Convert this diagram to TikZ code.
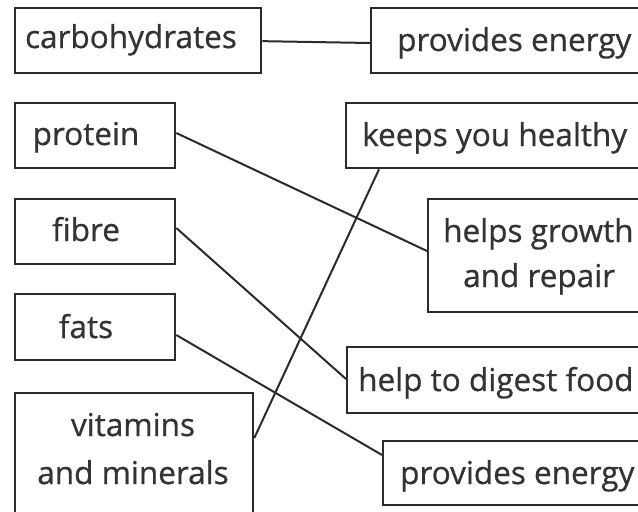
\documentclass[tikz,border=0pt]{standalone}
\usepackage{fontspec}
\setmainfont{Open Sans}
\newfontfamily\boxfont[FakeBold=0.7]{Open Sans}
\definecolor{ink}{HTML}{2B2B2B}
\definecolor{txt}{HTML}{333333}
\begin{document}
\begin{tikzpicture}[x=1pt,y=-1pt,
  box/.style={draw=ink,line width=2.3pt,rectangle,anchor=north west,inner sep=0pt},
  lbl/.style={text=txt,anchor=base,inner sep=0pt,font=\boxfont\fontsize{31.5}{38}\selectfont},
  lbll/.style={lbl,anchor=base west},
  link/.style={draw=ink,line width=2pt}]
\useasboundingbox (0,0) rectangle (638,512);
\clip (0,0) rectangle (638,512);
% left boxes
\node[box,minimum width=246pt,minimum height=65pt] (carb) at (14,7) {};
\node[box,minimum width=160pt,minimum height=65pt] (prot) at (14,102) {};
\node[box,minimum width=160pt,minimum height=65pt] (fib) at (14,198) {};
\node[box,minimum width=160pt,minimum height=66pt] (fat) at (14,293) {};
\node[box,minimum width=238pt,minimum height=140pt] (vit) at (14,392) {};
% right boxes
\node[box,minimum width=300pt,minimum height=65pt] (pea) at (370,7) {};
\node[box,minimum width=320pt,minimum height=65pt] (keep) at (345,102) {};
\node[box,minimum width=240pt,minimum height=113pt] (grow) at (427,198) {};
\node[box,minimum width=320pt,minimum height=66pt] (dig) at (346,346) {};
\node[box,minimum width=300pt,minimum height=64pt] (peb) at (382,440) {};
% texts
\node[lbl] (carbT) at (131,48) {carbohydrates};
\node[lbl] (protT) at (86,145) {protein};
\node[lbl] (fibT) at (86,241) {fibre};
\node[lbl] (fatT) at (86,338) {fats};
\node[lbl] (vitT1) at (133,436) {vitamins};
\node[lbl] (vitT2) at (133,484) {and minerals};
\node[lbll] (peaT) at (397,51) {provides energy};
\node[lbll] (keepT) at (362,146) {keeps you healthy};
\node[lbll] (growT1) at (443,242) {helps growth};
\node[lbll] (growT2) at (463,287) {and repair};
\node[lbll] (digT) at (358,391) {help to digest food};
\node[lbll] (pebT) at (400,484) {provides energy};
% connectors
\draw[link] ([yshift=-0.5pt]carb.east) -- ([yshift=-36pt]pea.north west);
\draw[link] ([yshift=-31pt]prot.north east) -- ([yshift=-53pt]grow.north west);
\draw[link] ([yshift=-30pt]fib.north east) -- ([yshift=-33pt]dig.north west);
\draw[link] ([yshift=-42pt]fat.north east) -- ([yshift=-15pt]peb.north west);
\draw[link] ([yshift=-46pt]vit.north east) -- ([xshift=34pt]keep.south west);
\end{tikzpicture}
\end{document}
